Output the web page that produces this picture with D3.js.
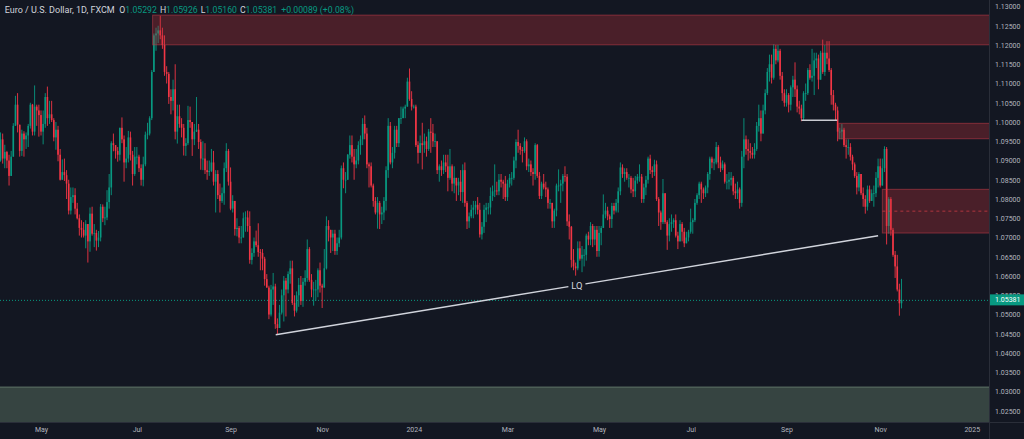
<!DOCTYPE html>
<html><head><meta charset="utf-8">
<script src="https://cdn.jsdelivr.net/npm/d3@7"></script>
<style>html,body{margin:0;padding:0;background:#131722;overflow:hidden}svg{display:block}</style>
</head><body><svg id="c" width="1024" height="439"></svg>
<script>
// ---- data (EUR/USD daily, FXCM) ----
const firstOpen = 1.0838;
const closes = [
// Apr 2023
1.0900,1.0955,1.0905,1.0922,1.0900,1.0860,1.0910,1.0990,1.1045,1.0993,1.0925,1.0970,1.0955,1.0965,1.0990,1.1045,1.0975,1.1040,1.1030,1.1018,
// May
1.0975,1.0995,1.1065,1.1010,1.1020,1.1005,1.0960,1.0980,1.0915,1.0850,1.0870,1.0862,1.0840,1.0770,1.0805,1.0810,1.0775,1.0750,1.0725,1.0720,1.0705,1.0735,1.0690,
// Jun
1.0762,1.0710,1.0712,1.0692,1.0700,1.0780,1.0750,1.0752,1.0792,1.0830,1.0945,1.0940,1.0925,1.0915,1.0985,1.0955,1.0895,1.0905,1.0960,1.0915,1.0865,1.0910,
// Jul
1.0910,1.0880,1.0850,1.0890,1.0967,1.0970,1.1010,1.1130,1.1225,1.1230,1.1238,1.1225,1.1200,1.1130,1.1125,1.1065,1.1055,1.1085,1.0975,1.1015,1.0995,
// Aug
1.0985,1.0938,1.0945,1.1005,1.1000,1.0955,1.0975,1.0980,1.0948,1.0905,1.0905,1.0875,1.0870,1.0873,1.0895,1.0845,1.0865,1.0810,1.0795,1.0815,1.0880,1.0925,1.0845,
// Sep
1.0775,1.0795,1.0722,1.0725,1.0700,1.0700,1.0750,1.0752,1.0730,1.0642,1.0660,1.0690,1.0680,1.0662,1.0660,1.0645,1.0592,1.0570,1.0500,1.0565,1.0573,
// Oct
1.0475,1.0465,1.0505,1.0550,1.0588,1.0565,1.0605,1.0620,1.0530,1.0510,1.0550,1.0577,1.0535,1.0585,1.0595,1.0670,1.0590,1.0565,1.0565,1.0565,1.0615,1.0575,
// Nov
1.0570,1.0620,1.0730,1.0720,1.0700,1.0710,1.0665,1.0685,1.0700,1.0880,1.0850,1.0850,1.0915,1.0940,1.0910,1.0890,1.0900,1.0940,1.0955,1.0995,1.0970,1.0890,
// Dec
1.0885,1.0835,1.0795,1.0765,1.0790,1.0760,1.0765,1.0795,1.0875,1.0990,1.0895,1.0920,1.0980,1.0945,1.1010,1.1010,1.1035,1.1040,1.1105,1.1060,1.1040,
// Jan 2024
1.1040,1.0940,1.0920,1.0945,1.0940,1.0950,1.0930,1.0975,1.0972,1.0950,1.0950,1.0875,1.0885,1.0875,1.0895,1.0885,1.0855,1.0885,1.0840,1.0855,1.0835,1.0845,1.0818,
// Feb
1.0875,1.0790,1.0742,1.0755,1.0772,1.0778,1.0785,1.0772,1.0708,1.0728,1.0772,1.0778,1.0778,1.0808,1.0820,1.0822,1.0820,1.0850,1.0845,1.0840,1.0805,
// Mar
1.0840,1.0855,1.0855,1.0900,1.0948,1.0938,1.0928,1.0925,1.0950,1.0885,1.0890,1.0870,1.0865,1.0940,1.0860,1.0808,1.0840,1.0830,1.0825,1.0790,1.0790,
// Apr
1.0742,1.0770,1.0835,1.0835,1.0840,1.0860,1.0858,1.0742,1.0728,1.0642,1.0625,1.0620,1.0672,1.0645,1.0655,1.0655,1.0705,1.0695,1.0730,1.0695,1.0720,1.0665,
// May
1.0712,1.0725,1.0760,1.0770,1.0755,1.0748,1.0782,1.0770,1.0790,1.0820,1.0882,1.0865,1.0870,1.0855,1.0855,1.0825,1.0820,1.0848,1.0858,1.0858,1.0800,1.0830,1.0850,
// Jun
1.0905,1.0875,1.0870,1.0890,1.0800,1.0765,1.0740,1.0815,1.0740,1.0705,1.0735,1.0740,1.0745,1.0705,1.0690,1.0735,1.0715,1.0685,1.0700,1.0715,
// Jul
1.0740,1.0745,1.0790,1.0810,1.0840,1.0825,1.0815,1.0830,1.0865,1.0905,1.0895,1.0895,1.0935,1.0895,1.0880,1.0890,1.0845,1.0845,1.0850,1.0855,1.0820,1.0815,1.0825,
// Aug
1.0790,1.0910,1.0955,1.0930,1.0925,1.0920,1.0915,1.0930,1.0990,1.1010,1.0970,1.1030,1.1075,1.1130,1.1150,1.1115,1.1190,1.1160,1.1185,1.1120,1.1075,1.1050,
// Sep
1.1070,1.1045,1.1090,1.1110,1.1085,1.1040,1.1035,1.1010,1.1075,1.1075,1.1135,1.1115,1.1120,1.1160,1.1165,1.1110,1.1180,1.1130,1.1180,1.1165,1.1135,
// Oct
1.1070,1.1045,1.1030,1.0975,1.0975,1.0980,1.0940,1.0935,1.0935,1.0910,1.0890,1.0860,1.0830,1.0865,1.0815,1.0800,1.0780,1.0825,1.0795,1.0815,1.0815,1.0855,1.0885,
// Nov
1.0835,1.0880,1.0930,1.0730,1.0800,1.0720,1.0655,1.0625,1.0565,1.05292,1.05381
];
const highs = [
1.0917,1.0973,1.0970,1.0941,1.0925,1.0915,1.0925,1.0997,1.1068,1.1075,1.0990,1.0980,1.0976,1.0973,1.0995,1.1050,1.1047,1.1095,1.1045,1.1045,
1.1030,1.1030,1.1075,1.1092,1.1055,1.1055,1.1010,1.1000,1.0990,1.0930,1.0903,1.0905,1.0875,1.0850,1.0830,1.0830,1.0828,1.0790,1.0760,1.0745,1.0740,1.0745,1.0735,
1.0778,1.0780,1.0735,1.0720,1.0717,1.0787,1.0786,1.0780,1.0823,1.0865,1.0950,1.0970,1.0940,1.0935,1.0985,1.1012,1.0965,1.0935,1.0977,1.0975,1.0925,1.0935,
1.0935,1.0915,1.0890,1.0910,1.0975,1.0998,1.1015,1.1135,1.1230,1.1245,1.1250,1.1276,1.1245,1.1225,1.1145,1.1130,1.1085,1.1110,1.1150,1.1045,1.1045,
1.1010,1.0995,1.0958,1.1042,1.1040,1.1000,1.0995,1.1065,1.0995,1.0955,1.0950,1.0945,1.0900,1.0900,1.0930,1.0925,1.0875,1.0875,1.0840,1.0830,1.0895,1.0945,1.0930,
1.0882,1.0810,1.0795,1.0750,1.0730,1.0730,1.0765,1.0768,1.0770,1.0768,1.0672,1.0700,1.0718,1.0737,1.0670,1.0670,1.0650,1.0605,1.0575,1.0577,1.0608,
1.0580,1.0490,1.0525,1.0565,1.0600,1.0595,1.0612,1.0640,1.0640,1.0550,1.0560,1.0595,1.0600,1.0595,1.0615,1.0695,1.0675,1.0605,1.0585,1.0590,1.0620,1.0635,
1.0580,1.0670,1.0755,1.0745,1.0720,1.0720,1.0720,1.0700,1.0720,1.0887,1.0895,1.0870,1.0917,1.0965,1.0965,1.0930,1.0930,1.0950,1.0965,1.1010,1.1017,1.0985,
1.0895,1.0895,1.0840,1.0805,1.0805,1.0795,1.0780,1.0805,1.0885,1.1010,1.1000,1.0935,1.0990,1.0990,1.1010,1.1040,1.1040,1.1045,1.1115,1.1139,1.1080,
1.1045,1.1045,1.0950,1.0965,1.0998,1.0970,1.0962,1.0982,1.1010,1.0995,1.0970,1.0950,1.0890,1.0900,1.0915,1.0915,1.0915,1.0930,1.0890,1.0885,1.0855,1.0855,1.0875,
1.0890,1.0895,1.0795,1.0765,1.0785,1.0795,1.0795,1.0805,1.0790,1.0740,1.0785,1.0790,1.0790,1.0830,1.0835,1.0890,1.0845,1.0865,1.0865,1.0850,1.0860,
1.0850,1.0865,1.0870,1.0910,1.0955,1.0980,1.0945,1.0935,1.0960,1.0955,1.0905,1.0900,1.0880,1.0945,1.0943,1.0870,1.0845,1.0865,1.0845,1.0830,1.0800,
1.0790,1.0775,1.0840,1.0877,1.0850,1.0865,1.0885,1.0865,1.0760,1.0730,1.0670,1.0635,1.0690,1.0690,1.0678,1.0670,1.0710,1.0715,1.0740,1.0735,1.0730,1.0730,
1.0730,1.0730,1.0812,1.0790,1.0780,1.0760,1.0790,1.0790,1.0800,1.0830,1.0895,1.0890,1.0880,1.0880,1.0865,1.0860,1.0855,1.0860,1.0865,1.0890,1.0865,1.0840,1.0860,
1.0910,1.0915,1.0885,1.0902,1.0900,1.0805,1.0770,1.0852,1.0815,1.0745,1.0750,1.0760,1.0750,1.0760,1.0715,1.0745,1.0740,1.0725,1.0715,1.0720,
1.0775,1.0750,1.0800,1.0815,1.0845,1.0845,1.0830,1.0835,1.0870,1.0910,1.0910,1.0905,1.0948,1.0940,1.0910,1.0900,1.0895,1.0865,1.0870,1.0870,1.0860,1.0840,1.0845,
1.0830,1.0925,1.1010,1.0965,1.0955,1.0945,1.0935,1.0945,1.1000,1.1045,1.1030,1.1045,1.1085,1.1140,1.1175,1.1175,1.1202,1.1200,1.1200,1.1190,1.1130,1.1085,
1.1085,1.1075,1.1095,1.1120,1.1155,1.1095,1.1055,1.1045,1.1080,1.1100,1.1140,1.1150,1.1190,1.1180,1.1180,1.1175,1.1185,1.1214,1.1200,1.1210,1.1210,
1.1140,1.1083,1.1050,1.1040,1.0985,1.0995,1.0985,1.0955,1.0955,1.0945,1.0915,1.0895,1.0870,1.0870,1.0865,1.0830,1.0810,1.0835,1.0835,1.0825,1.0835,1.0870,1.0905,
1.0905,1.0905,1.0937,1.0935,1.0805,1.0805,1.0725,1.0665,1.0655,1.0580,1.05926
];
const lows = [
1.0788,1.0897,1.0892,1.0880,1.0880,1.0835,1.0862,1.0910,1.0990,1.0973,1.0910,1.0912,1.0910,1.0930,1.0935,1.0983,1.0965,1.0965,1.0990,1.0962,
1.0965,1.0942,1.0985,1.0990,1.0995,1.1000,1.0950,1.0928,1.0898,1.0848,1.0855,1.0847,1.0800,1.0760,1.0760,1.0790,1.0760,1.0747,1.0705,1.0700,1.0700,1.0672,1.0635,
1.0663,1.0705,1.0675,1.0666,1.0675,1.0690,1.0740,1.0732,1.0745,1.0775,1.0810,1.0924,1.0905,1.0897,1.0900,1.0945,1.0845,1.0880,1.0895,1.0900,1.0835,1.0860,
1.0890,1.0870,1.0835,1.0833,1.0885,1.0955,1.0965,1.1005,1.1130,1.1185,1.1205,1.1215,1.1190,1.1120,1.1100,1.1047,1.1020,1.1030,1.0955,1.0944,1.0985,
1.0960,1.0913,1.0912,1.0940,1.0985,1.0912,1.0940,1.0974,1.0930,1.0876,1.0875,1.0865,1.0850,1.0860,1.0870,1.0835,1.0765,1.0800,1.0765,1.0790,1.0785,1.0870,1.0835,
1.0771,1.0765,1.0705,1.0703,1.0685,1.0685,1.0710,1.0715,1.0715,1.0632,1.0630,1.0650,1.0675,1.0650,1.0615,1.0615,1.0575,1.0570,1.0488,1.0495,1.0525,
1.0463,1.0448,1.0465,1.0500,1.0482,1.0495,1.0555,1.0580,1.0525,1.0495,1.0505,1.0520,1.0525,1.0520,1.0575,1.0585,1.0585,1.0545,1.0523,1.0535,1.0545,1.0557,
1.0517,1.0570,1.0617,1.0690,1.0660,1.0665,1.0655,1.0655,1.0675,1.0695,1.0828,1.0815,1.0850,1.0905,1.0895,1.0850,1.0880,1.0890,1.0915,1.0940,1.0955,1.0880,
1.0830,1.0830,1.0780,1.0760,1.0723,1.0722,1.0735,1.0745,1.0770,1.0855,1.0890,1.0880,1.0905,1.0935,1.0935,1.0995,1.1015,1.1010,1.1040,1.1055,1.1030,
1.1035,1.0935,1.0892,1.0920,1.0877,1.0920,1.0910,1.0925,1.0920,1.0935,1.0935,1.0865,1.0845,1.0860,1.0865,1.0870,1.0820,1.0850,1.0820,1.0815,1.0795,1.0810,1.0795,
1.0790,1.0780,1.0722,1.0725,1.0750,1.0750,1.0760,1.0760,1.0700,1.0695,1.0712,1.0740,1.0760,1.0760,1.0795,1.0805,1.0810,1.0810,1.0830,1.0800,1.0795,
1.0795,1.0830,1.0835,1.0850,1.0880,1.0920,1.0915,1.0895,1.0920,1.0875,1.0870,1.0860,1.0835,1.0850,1.0855,1.0800,1.0800,1.0825,1.0805,1.0775,1.0775,
1.0725,1.0725,1.0755,1.0820,1.0790,1.0820,1.0845,1.0730,1.0695,1.0622,1.0615,1.0601,1.0615,1.0640,1.0610,1.0625,1.0640,1.0680,1.0680,1.0675,1.0680,1.0650,
1.0650,1.0680,1.0725,1.0750,1.0745,1.0725,1.0725,1.0760,1.0765,1.0765,1.0810,1.0855,1.0845,1.0850,1.0830,1.0815,1.0805,1.0805,1.0840,1.0845,1.0790,1.0790,1.0810,
1.0840,1.0865,1.0855,1.0860,1.0795,1.0730,1.0720,1.0735,1.0735,1.0668,1.0690,1.0715,1.0725,1.0700,1.0670,1.0690,1.0690,1.0675,1.0685,1.0690,
1.0710,1.0710,1.0740,1.0785,1.0800,1.0790,1.0800,1.0805,1.0815,1.0850,1.0880,1.0875,1.0890,1.0880,1.0870,1.0875,1.0840,1.0825,1.0825,1.0835,1.0810,1.0800,1.0800,
1.0775,1.0780,1.0880,1.0915,1.0900,1.0905,1.0905,1.0905,1.0925,1.0975,1.0950,1.0970,1.1020,1.1070,1.1105,1.1100,1.1110,1.1150,1.1155,1.1110,1.1055,1.1040,
1.1040,1.1025,1.1030,1.1065,1.1065,1.1025,1.1020,1.1002,1.1005,1.1055,1.1070,1.1110,1.1105,1.1070,1.1140,1.1085,1.1110,1.1125,1.1120,1.1150,1.1130,
1.1045,1.1030,1.1005,1.0950,1.0955,1.0955,1.0935,1.0905,1.0915,1.0900,1.0875,1.0855,1.0812,1.0820,1.0810,1.0780,1.0762,1.0770,1.0790,1.0795,1.0780,1.0805,1.0830,
1.0830,1.0850,1.0870,1.0682,1.0710,1.0705,1.0650,1.0595,1.0560,1.0497,1.05160
];
const priceTicks = [1.13,1.125,1.12,1.115,1.11,1.105,1.10,1.095,1.09,1.085,1.08,1.075,1.07,1.065,1.06,1.055,1.05,1.045,1.04,1.035,1.03,1.025];
const monthNames = ["Jan","Feb","Mar","Apr","May","Jun","Jul","Aug","Sep","Oct","Nov","Dec"];
const lastPrice = 1.05381;
// annotations (bar index, price)
const supplyZones = [
  {from: 72.4, lo: 1.12005, hi: 1.12776},
  {from: 394.5, lo: 1.09566, hi: 1.09966},
  {from: 415.0, lo: 1.07117, hi: 1.08252, mid: 1.07685}
];
const demandZone = {from: -5, lo: 1.0200, hi: 1.03117};
const levelLine = {from: 377, to: 393.8, price: 1.10044};
const trendLine = {from: 130.2, p0: 1.04475, to: 413.0, p1: 1.07047, label: "LQ", labelAt: 0.5};

// ---- build dates (weekday bars) ----
const dates = [];
for (let d = new Date(Date.UTC(2023,3,3)); d < new Date(Date.UTC(2025,0,15)); d = new Date(d.getTime()+86400000)) {
  const wd = d.getUTCDay();
  if (wd !== 0 && wd !== 6) dates.push(d);
}
const N = Math.min(closes.length, highs.length, lows.length);
const bars = d3.range(N).map(i => {
  const o = i === 0 ? firstOpen : closes[i-1];
  const c = closes[i];
  return {i, o, c, h: Math.max(highs[i], o, c), l: Math.min(lows[i], o, c)};
});

// ---- layout ----
const W = 1024, H = 439, PW = 989, PH = 422;
const svg = d3.select("#c");
const x = d3.scaleLinear().domain([0, 424]).range([-1.6, -1.6 + 424*2.13]);
const y = d3.scaleLinear().domain([1.025, 1.13]).range([410.8, 6.5]);
const UP = "#089981", DN = "#f23645";
const FONT = "Roboto, sans-serif";

svg.append("rect").attr("width", W).attr("height", H).attr("fill", "#131722");
svg.append("clipPath").attr("id","pc").append("rect").attr("width",PW).attr("height",PH);
const pane = svg.append("g").attr("clip-path","url(#pc)");

// demand zone (bottom)
pane.append("rect")
  .attr("x", x(demandZone.from)).attr("width", PW - x(demandZone.from) + 2)
  .attr("y", y(demandZone.hi)).attr("height", y(demandZone.lo) - y(demandZone.hi))
  .attr("fill", "rgba(136,173,140,0.30)").attr("stroke", "rgba(139,169,142,0.55)").attr("stroke-width", 1);

// current price dotted line
pane.append("line").attr("x1", 0).attr("x2", PW).attr("y1", y(lastPrice)+0.5).attr("y2", y(lastPrice)+0.5)
  .attr("stroke", UP).attr("stroke-width", 1).attr("stroke-dasharray", "1,2");

// candles
const cg = pane.append("g");
cg.selectAll("line.w").data(bars).join("line").attr("class","w")
  .attr("x1", d => x(d.i)).attr("x2", d => x(d.i))
  .attr("y1", d => y(d.h)).attr("y2", d => y(d.l))
  .attr("stroke", d => d.c >= d.o ? UP : DN).attr("stroke-width", 0.9);
cg.selectAll("rect.b").data(bars).join("rect").attr("class","b")
  .attr("x", d => x(d.i) - 0.8).attr("width", 1.6)
  .attr("y", d => y(Math.max(d.o, d.c)))
  .attr("height", d => Math.max(0.8, Math.abs(y(d.o) - y(d.c))))
  .attr("fill", d => d.c >= d.o ? UP : DN);

// supply zones
supplyZones.forEach(z => {
  pane.append("rect")
    .attr("x", x(z.from)).attr("width", PW - x(z.from) + 2)
    .attr("y", y(z.hi)).attr("height", y(z.lo) - y(z.hi))
    .attr("fill", "rgba(202,50,58,0.30)").attr("stroke", "rgba(195,61,72,0.55)").attr("stroke-width", 1);
  if (z.mid) {
    pane.append("line").attr("x1", x(z.from)).attr("x2", PW).attr("y1", y(z.mid)).attr("y2", y(z.mid))
      .attr("stroke", "rgba(210,60,70,0.75)").attr("stroke-width", 1).attr("stroke-dasharray", "3,3");
  }
});

// horizontal level
pane.append("line").attr("x1", x(levelLine.from)).attr("x2", x(levelLine.to))
  .attr("y1", y(levelLine.price)).attr("y2", y(levelLine.price))
  .attr("stroke", "#c9cbd1").attr("stroke-width", 1.5);

// trend line with label gap
const tx0 = x(trendLine.from), ty0 = y(trendLine.p0), tx1 = x(trendLine.to), ty1 = y(trendLine.p1);
const lx = tx0 + (tx1 - tx0) * trendLine.labelAt, ly = ty0 + (ty1 - ty0) * trendLine.labelAt;
const gapHalf = 8.5;
const slope = (ty1 - ty0) / (tx1 - tx0);
pane.append("line").attr("x1", tx0).attr("y1", ty0).attr("x2", lx - gapHalf).attr("y2", ly - gapHalf*slope)
  .attr("stroke", "#d1d4dc").attr("stroke-width", 1.4);
pane.append("line").attr("x1", lx + gapHalf).attr("y1", ly + gapHalf*slope).attr("x2", tx1).attr("y2", ty1)
  .attr("stroke", "#d1d4dc").attr("stroke-width", 1.4);
pane.append("text").attr("x", lx).attr("y", ly).attr("dy", "0.35em").attr("text-anchor", "middle")
  .attr("font-family", FONT).attr("font-size", 9.5).attr("fill", "#d1d4dc").text(trendLine.label);

// ---- axes ----
svg.append("line").attr("x1", PW + 0.5).attr("x2", PW + 0.5).attr("y1", 0).attr("y2", H).attr("stroke", "#2a2e39");
svg.append("line").attr("x1", 0).attr("x2", W).attr("y1", PH + 0.5).attr("y2", PH + 0.5).attr("stroke", "#2a2e39");

const yAxis = svg.append("g").attr("transform", `translate(${PW},0)`)
  .call(d3.axisRight(y).tickValues(priceTicks).tickFormat(d3.format(".5f")).tickSize(0).tickPadding(6));
yAxis.select(".domain").remove();
yAxis.selectAll("text").attr("font-family", FONT).attr("font-size", 7).attr("fill", "#b2b5be");

// time axis ticks at first bar of odd months
const tickIdx = [], tickLab = {};
dates.forEach((d, i) => {
  if (i === 0) return;
  const m = d.getUTCMonth();
  if (m !== dates[i-1].getUTCMonth() && m % 2 === 0) {
    tickIdx.push(i);
    tickLab[i] = m === 0 ? String(d.getUTCFullYear()) : monthNames[m];
  }
});
const xAxis = svg.append("g").attr("transform", `translate(0,${PH})`)
  .call(d3.axisBottom(x).tickValues(tickIdx.filter(i => x(i) < PW - 5)).tickFormat(i => tickLab[i]).tickSize(0).tickPadding(5));
xAxis.select(".domain").remove();
xAxis.selectAll("text").attr("font-family", FONT).attr("font-size", 7).attr("fill", "#b2b5be");

// last price tag (covers the lower part of the 1.05500 label, as in the source)
svg.append("rect").attr("x", PW + 1).attr("y", y(lastPrice) - 5.5).attr("width", W - PW - 1).attr("height", 11).attr("fill", UP);
svg.append("text").attr("x", PW + 6).attr("y", y(lastPrice)).attr("dy", "0.35em")
  .attr("font-family", FONT).attr("font-size", 7).attr("fill", "#ffffff").text(d3.format(".5f")(lastPrice));

// ---- header ----
const last = bars[N-1], prev = bars[N-2];
const f5 = d3.format(".5f");
const hdr = svg.append("g").attr("font-family", FONT).attr("font-size", 8.7);
hdr.append("text").attr("x", 4.7).attr("y", 13.2).attr("fill", "#d1d4dc").attr("font-size", 9).text("Euro / U.S. Dollar, 1D, FXCM");
let hx = 119.3;
[["O", last.o], ["H", last.h], ["L", last.l], ["C", last.c]].forEach(([k, v]) => {
  const t = hdr.append("text").attr("x", hx).attr("y", 13.2);
  t.append("tspan").attr("fill", "#d1d4dc").text(k);
  t.append("tspan").attr("fill", UP).text(f5(v));
  hx += t.node().getComputedTextLength() + 3;
});
const ch = last.c - prev.c;
hdr.append("text").attr("x", hx + 1).attr("y", 13.2).attr("fill", UP)
  .text(`${ch >= 0 ? "+" : ""}${f5(ch)} (${ch >= 0 ? "+" : ""}${(ch / prev.c * 100).toFixed(2)}%)`);
</script>
</body></html>
